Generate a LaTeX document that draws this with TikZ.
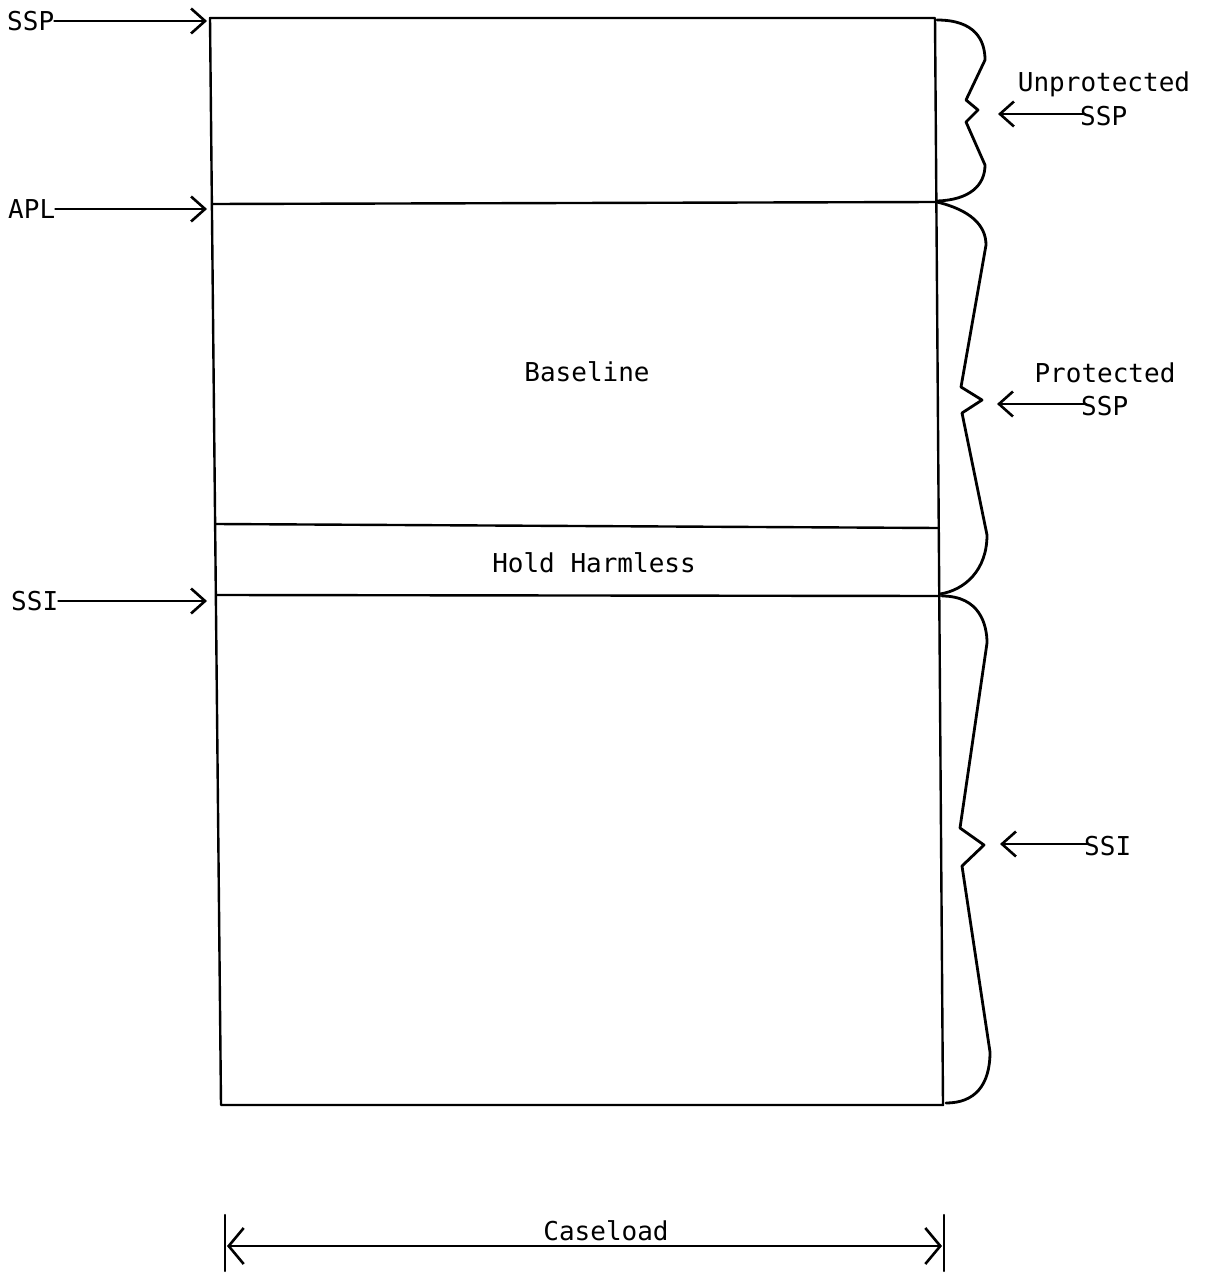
\documentclass[tikz,border=0pt]{standalone}
\usepackage{fontspec}
\setmainfont{DejaVu Sans Mono}
\usetikzlibrary{arrows.meta}
\begin{document}
\begin{tikzpicture}[x=1pt,y=-1pt,
  ln/.style={line width=2.4pt, line cap=round, line join=round},
  lbl/.style={font=\fontsize{26}{29}\selectfont, inner sep=0pt},
  arr/.style={ln, -{Straight Barb[length=14pt,width=25pt,line width=2.6pt]}},
  brc/.style={line width=2.8pt, line cap=round, line join=round}]
\useasboundingbox (0,0) rectangle (1204,1273);
% box corners
\coordinate (tl) at (210,18);
\coordinate (tr) at (935,18);
\coordinate (bl) at (221,1105);
\coordinate (br) at (943,1105);
\coordinate (aplL) at (212,204);
\coordinate (aplR) at (937,202);
\coordinate (hhL) at (216,524);
\coordinate (hhR) at (939,528);
\coordinate (ssiL) at (217,595);
\coordinate (ssiR) at (940,596);
\draw[ln] (tl) -- (tr) -- (br) -- (bl) -- cycle;
\draw[ln] (aplL) -- (aplR);
\draw[ln] (hhL) -- (hhR);
\draw[ln] (ssiL) -- (ssiR);
% inner labels
\node[lbl] (baseline) at (587,372) {Baseline};
\node[lbl] (hold) at (594,563) {Hold Harmless};
% left labels and arrows
\node[lbl, anchor=west] (ssp) at (7,21) {SSP};
\node[lbl, anchor=west] (apl) at (8,209) {APL};
\node[lbl, anchor=west] (ssi) at (11,601) {SSI};
\coordinate (sspT) at (207,21);
\coordinate (aplT) at (207,209);
\coordinate (ssiT) at (207,601);
\draw[arr] (ssp.east) -- (sspT);
\draw[arr] (apl.east) -- (aplT);
\draw[arr] (ssi.east) -- (ssiT);
% braces
\draw[brc] (937,20) .. controls (975,20) and (985,40) .. (985,60)
  -- (966,100) -- (978,110) -- (966,122) -- (985,165)
  .. controls (985,185) and (970,200) .. (937,201);
\draw[brc] (937,202) .. controls (970,210) and (986,225) .. (986,245)
  -- (961,387) -- (982,400) -- (962,413) -- (987,535)
  .. controls (987,570) and (965,590) .. (940,594);
\draw[brc] (942,596) .. controls (980,596) and (987,625) .. (987,643)
  -- (960,828) -- (984,845) -- (962,866) -- (990,1052)
  .. controls (990,1085) and (975,1103) .. (946,1103);
% right labels
\node[lbl] (unprot) at (1104,84) {Unprotected};
\node[lbl, anchor=west] (ssp1) at (1080,116) {SSP};
\node[lbl] (prot) at (1105,373) {Protected};
\node[lbl, anchor=west] (ssp2) at (1081,406) {SSP};
\node[lbl, anchor=west] (ssi2) at (1084,846) {SSI};
\coordinate (b1) at (998,114);
\coordinate (b2) at (997,404);
\coordinate (b3) at (1000,844);
\draw[arr] (ssp1.west) ++(5,-2) -- (b1);
\draw[arr] (ssp2.west) ++(5,-2) -- (b2);
\draw[arr] (ssi2.west) ++(4,-2) -- (b3);
% caseload
\coordinate (cl1) at (225,1215);
\coordinate (cl2) at (225,1271);
\coordinate (cr1) at (944,1215);
\coordinate (cr2) at (944,1271);
\coordinate (ca) at (227,1246);
\coordinate (cb) at (942,1246);
\draw[ln] (cl1) -- (cl2);
\draw[ln] (cr1) -- (cr2);
\draw[ln, {Straight Barb[length=15pt,width=36pt,line width=2.6pt]}-{Straight Barb[length=15pt,width=36pt,line width=2.6pt]}] (ca) -- (cb);
\node[lbl] (caseload) at (606,1231) {Caseload};
\end{tikzpicture}
\end{document}
